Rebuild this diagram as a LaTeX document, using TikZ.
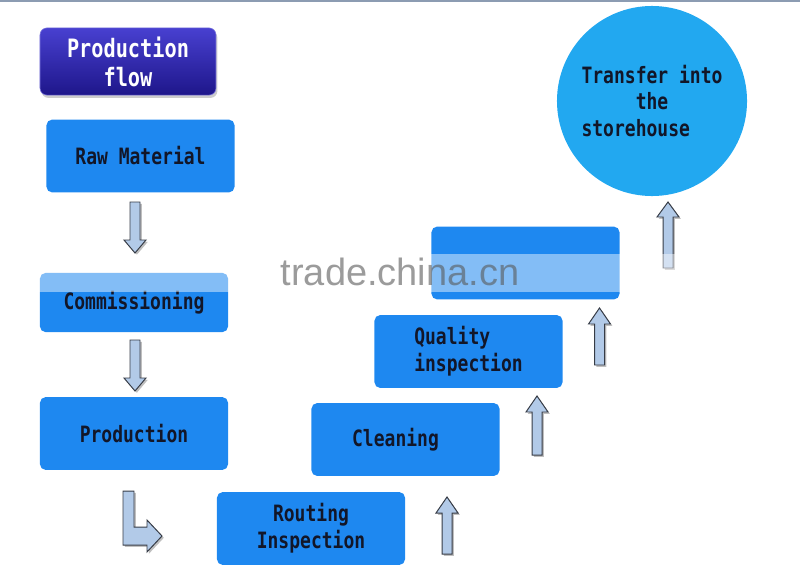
\documentclass[tikz,border=0pt]{standalone}
\usepackage{fontspec}
\usetikzlibrary{shadows}
\newfontfamily\boxfont[FakeStretch=0.8]{DejaVu Sans Mono}
\newfontfamily\markfont{Liberation Sans}
\definecolor{boxblue}{RGB}{30,136,240}
\definecolor{roundblue}{RGB}{34,168,240}
\definecolor{headtop}{RGB}{72,64,208}
\definecolor{headbot}{RGB}{30,22,138}
\definecolor{arrowfill}{RGB}{178,202,232}
\definecolor{arrowline}{RGB}{55,60,70}
\definecolor{textdark}{RGB}{18,22,40}
\definecolor{topline}{RGB}{140,156,178}
\tikzset{
  stepbox/.style={rectangle, rounded corners=4pt, fill=boxblue, minimum width=4.7cm,
    minimum height=1.82cm, text=textdark, font=\boxfont\bfseries\fontsize{16}{19}\selectfont},
  headbox/.style={rectangle, rounded corners=5pt, top color=headtop, bottom color=headbot,
    draw=headtop!70!white, minimum width=4.4cm, minimum height=1.68cm, text=white,
    align=center, font=\boxfont\bfseries\fontsize{18}{20.5}\selectfont,
    drop shadow={shadow xshift=1pt, shadow yshift=-2pt, opacity=0.4}},
  blockarrow/.style={fill=arrowfill, draw=arrowline, line width=0.7pt, line join=miter,
    drop shadow={shadow xshift=1.3pt, shadow yshift=-1.3pt, opacity=0.5}}
}
% vertical block arrow: x, tail, head base, tip
\newcommand{\blockarrow}[4]{%
  \draw[blockarrow] (#1-5,#2) -- (#1+5,#2) -- (#1+5,#3) -- (#1+11,#3) -- (#1,#4)
    -- (#1-11,#3) -- (#1-5,#3) -- cycle;}
\begin{document}
\begin{tikzpicture}[x=0.025cm, y=-0.025cm]
  \useasboundingbox (0,0) rectangle (800,572);
  \draw[topline, line width=1.2pt] (0,1) -- (800,1);

  \node[headbox] (head) at (128,61.5) {Production\\flow};

  % left column
  \node[stepbox] (raw) at (140.5,156) {Raw Material};
  \node[stepbox, minimum height=1.48cm] (comm) at (134,302.5) {Commissioning};
  \node[stepbox] (prod) at (134,433.5) {Production};

  % staircase
  \node[stepbox, align=center] (route) at (311,528.5) {Routing\\Inspection};
  \node[stepbox] (clean) at (405.5,439.5) {Cleaning\hspace*{0.5cm}};
  \node[stepbox, align=left] (quality) at (468.5,351.5) {Quality\\inspection};
  \node[stepbox] (blank) at (525.5,263) {};
  \node[circle, fill=roundblue, minimum size=4.75cm, inner sep=0pt, align=left,
    text=textdark, font=\boxfont\bfseries\fontsize{16}{19}\selectfont] (store) at (652,101)
    {Transfer into\\\phantom{xxxxx}the\\storehouse};

  % arrows
  \blockarrow{135}{202}{240}{253}
  \blockarrow{135}{340}{378}{391}
  \draw[blockarrow] (123,491) -- (134,491) -- (134,527) -- (147,527) -- (147,520)
    -- (162,536) -- (147,552) -- (147,545) -- (123,545) -- cycle;
  \blockarrow{447}{554}{513}{497}
  \blockarrow{537}{455}{412}{396}
  \blockarrow{599.5}{365}{324}{308}
  \blockarrow{668}{268}{217}{202}

  % watermark
  \fill[white, opacity=0.45] (37,254) rectangle (700,292);
  \node[text=gray!70!black, opacity=0.6, font=\markfont\fontsize{27}{27}\selectfont]
    (mark) at (400,272) {trade.china.cn};
\end{tikzpicture}
\end{document}
